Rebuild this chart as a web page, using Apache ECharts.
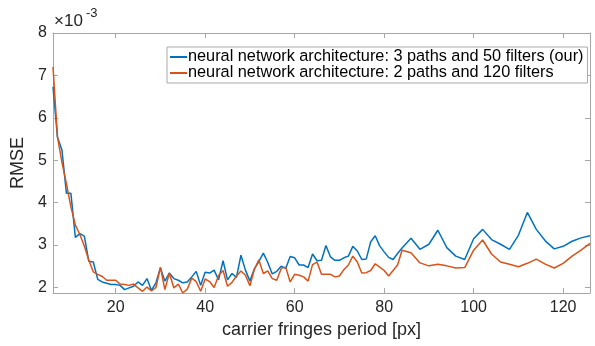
<!DOCTYPE html>
<html>
<head>
<meta charset="utf-8">
<script src="https://cdn.jsdelivr.net/npm/echarts@6/dist/echarts.min.js"></script>
<style>html,body{margin:0;padding:0;background:#fff}#c{width:595px;height:346px}</style>
</head>
<body>
<div id="c"></div>
<script>
// carrier fringes period [px]
var period = [6,7,8,9,10,11,12,13,14,15,16,17,18,19,20,21,22,23,24,25,26,27,28,29,30,31,32,33,34,35,36,37,38,39,40,41,42,43,44,45,46,47,48,49,50,51,52,53,54,55,56,57,58,59,60,61,62,63,64,65,66,67,68,69,70,71,72,73,74,75,76,77,78,79,80,81,82,83,84,86,88,90,92,94,96,98,100,102,104,106,108,110,112,114,116,118,120,122,124,126];
// RMSE (x10^-3), 3 paths and 50 filters (our)
var rmse3paths50 = [6.73,5.54,5.24,4.22,4.22,3.18,3.27,3.21,2.62,2.60,2.19,2.13,2.10,2.07,2.07,2.05,1.95,1.99,2.03,2.13,2.05,2.21,1.93,2.11,2.46,2.15,2.34,2.21,2.17,2.11,2.13,2.25,2.38,2.05,2.36,2.34,2.41,2.18,2.63,2.18,2.33,2.24,2.76,2.41,2.15,2.44,2.61,2.81,2.59,2.32,2.38,2.50,2.45,2.73,2.70,2.53,2.53,2.47,2.79,2.63,2.64,2.99,2.72,2.64,2.64,2.70,2.74,2.97,2.86,2.66,2.67,3.08,3.22,2.98,2.84,2.71,2.66,2.80,2.93,3.16,2.90,3.02,3.35,2.94,2.74,2.66,3.15,3.37,3.13,3.02,2.90,3.23,3.77,3.37,3.10,2.91,2.97,3.09,3.17,3.22];
// RMSE (x10^-3), 2 paths and 120 filters
var rmse2paths120 = [7.20,5.55,4.95,4.45,3.90,3.47,3.25,2.98,2.64,2.37,2.31,2.26,2.17,2.17,2.17,2.08,2.07,2.05,2.08,1.99,1.91,2.01,1.92,2.00,2.48,1.95,2.34,1.99,2.08,1.87,1.96,2.22,2.14,1.91,2.20,2.14,2.00,2.28,2.40,2.03,2.12,2.27,2.39,2.29,2.04,2.43,2.65,2.33,2.39,2.21,2.17,2.45,2.48,2.13,2.31,2.29,2.25,2.15,2.54,2.60,2.31,2.31,2.31,2.25,2.27,2.42,2.53,2.74,2.60,2.34,2.35,2.40,2.56,2.48,2.40,2.27,2.40,2.53,2.88,2.82,2.58,2.51,2.55,2.51,2.46,2.47,2.88,3.12,2.79,2.60,2.55,2.49,2.57,2.67,2.55,2.46,2.57,2.74,2.88,3.04];
var xTicks = [20,40,60,80,100,120];
var yTicks = [2,3,4,5,6,7,8];
var seriesNames = ['neural network architecture: 3 paths and 50 filters (our)','neural network architecture: 2 paths and 120 filters'];

var FONT = '"Liberation Sans", Arial, sans-serif';
var AX = '#a6a6a6';
function pairs(xs, ys){ return xs.map(function(x,i){ return [x, ys[i]]; }); }
var chart = echarts.init(document.getElementById('c'), null, {renderer:'canvas'});
var xCommon = {type:'value', min:6, max:126, splitLine:{show:false},
  axisLine:{show:true, onZero:false, lineStyle:{color:AX, width:1}},
  axisTick:{show:true, inside:true, length:5, lineStyle:{color:AX}, customValues:xTicks}};
var yCommon = {type:'value', min:1.87, max:8, splitLine:{show:false},
  axisLine:{show:true, onZero:false, lineStyle:{color:AX, width:1}},
  axisTick:{show:true, inside:true, length:5, lineStyle:{color:AX}, customValues:yTicks}};
chart.setOption({
  animation:false,
  grid:{left:53, right:5, top:33, bottom:53, containLabel:false},
  xAxis:[
    Object.assign({}, xCommon, {position:'bottom',
      name:'carrier fringes period [px]', nameLocation:'middle', nameGap:26,
      nameTextStyle:{fontFamily:FONT, fontSize:18, color:'#262626'},
      axisLabel:{show:true, customValues:xTicks, margin:7, fontFamily:FONT, fontSize:16, color:'#262626'}}),
    Object.assign({}, xCommon, {position:'top', axisLabel:{show:false}})
  ],
  yAxis:[
    Object.assign({}, yCommon, {position:'left',
      name:'RMSE', nameLocation:'middle', nameGap:24, nameRotate:90,
      nameTextStyle:{fontFamily:FONT, fontSize:18, color:'#262626'},
      axisLabel:{show:true, customValues:yTicks, margin:6, fontFamily:FONT, fontSize:16, color:'#262626'}}),
    Object.assign({}, yCommon, {position:'right', axisLabel:{show:false}})
  ],
  legend:{
    orient:'vertical', left:167, top:47, itemWidth:17, itemHeight:2, itemGap:0, icon:'rect',
    backgroundColor:'#fff', borderColor:'#aaaaaa', borderWidth:1, borderRadius:0, padding:[2,4,2,3],
    textStyle:{fontFamily:FONT, fontSize:16.3, color:'#000', padding:[0,0,0,-4]},
    data:seriesNames
  },
  graphic:[
    {type:'text', left:54, top:13, style:{text:'×10', font:'17px "Liberation Sans", Arial, sans-serif', fill:'#262626'}},
    {type:'text', left:86, top:7, style:{text:'-3', font:'13px "Liberation Sans", Arial, sans-serif', fill:'#262626'}}
  ],
  series:[
    {name:seriesNames[0], type:'line', data:pairs(period, rmse3paths50), showSymbol:false, symbol:'none', color:'#0072BD', lineStyle:{width:1.5, color:'#0072BD'}, clip:true},
    {name:seriesNames[1], type:'line', data:pairs(period, rmse2paths120), showSymbol:false, symbol:'none', color:'#D95319', lineStyle:{width:1.5, color:'#D95319'}, clip:true}
  ]
});
</script>
</body>
</html>
